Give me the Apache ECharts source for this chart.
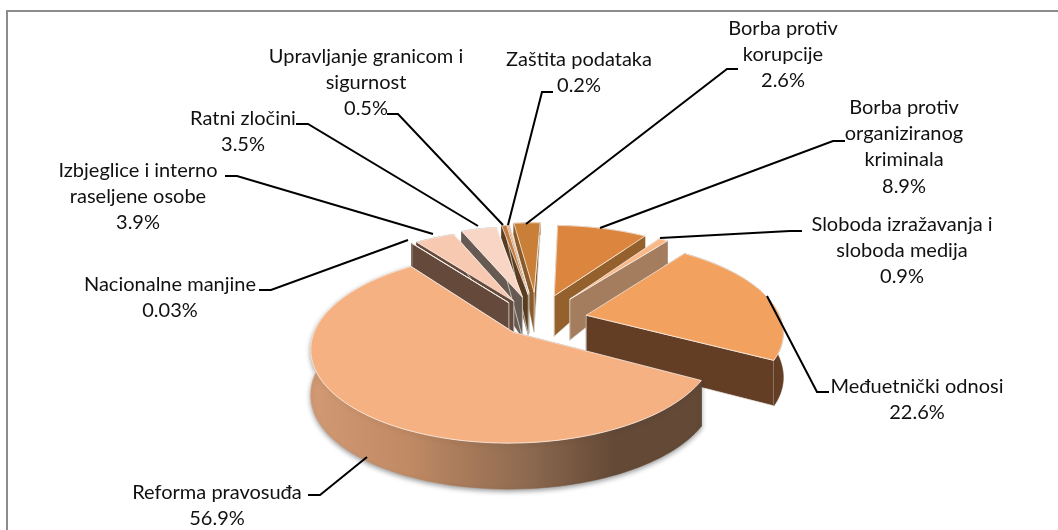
<!DOCTYPE html>
<html lang="hr">
<head>
    <meta charset="utf-8" />
    <title>Pie</title>
    <script src="https://cdn.jsdelivr.net/npm/echarts@6/dist/echarts.min.js"></script>
    <style>
        html, body { margin: 0; padding: 0; background: #fff; }
        #chartmain { width: 1058px; height: 530px; }
    </style>
</head>
<body>
    <div id="chartmain"></div>
    <script>
        // data, clockwise from the top of the pie
        var sliceNames = [
            'Borba protiv\norganiziranog\nkriminala',
            'Sloboda izražavanja i\nsloboda medija',
            'Međuetnički odnosi',
            'Reforma pravosuđa',
            'Nacionalne manjine',
            'Izbjeglice i interno\nraseljene osobe',
            'Ratni zločini',
            'Upravljanje granicom i\nsigurnost',
            'Zaštita podataka',
            'Borba protiv\nkorupcije'
        ];
        var sliceValues = [8.9, 0.9, 22.6, 56.9, 0.03, 3.9, 3.5, 0.5, 0.2, 2.6];

        // look of each slice, same order
        var topColors = ['#DC853F', '#F8B888', '#F2A15F', '#F6B183', '#F3BFA0', '#F7C9B0', '#F9D5C5', '#C77A3C', '#F0B080', '#C97F37'];
        var wallColors = ['#94602C', '#A37D5E', '#633D24', '#634936', '#654A3C', '#654A3C', '#675A52', '#5A3C1E', '#5A3C1E', '#8A5A28'];
        var explode = [0.3, 0.3, 0.26, 0.18, 0.25, 0.25, 0.28, 0.3, 0.32, 0.33];
        var paintOrder = [9, 8, 7, 0, 1, 6, 5, 4, 2, 3];

        // label layout: text centre x, first line y, then the leader line
        var labelX = [904, 902, 917, 217, 170, 138, 243, 366, 579, 783];
        var labelY = [107, 224, 386, 492, 284, 170, 118, 56, 59, 28];
        var leaders = [
            [[845, 141], [833, 141], [600, 228]],
            [[802, 231], [790, 231], [660, 238]],
            [[829, 392], [817, 392], [767, 296]],
            [[308, 495], [320, 495], [367, 457]],
            [[259, 290], [271, 290], [408, 240]],
            [[225, 176], [237, 176], [433, 234]],
            [[296, 124], [308, 124], [478, 226]],
            [[387, 114], [398, 114], [503, 225]],
            [[553, 92], [542, 92], [508, 225]],
            [[738, 69], [727, 69], [526, 224]]
        ];

        // pie projection
        var CX = 537, CY = 320, RX = 195, RY = 88.7, PERSP = 0.16, START = 2;

        function project(x, y) {
            var w = 1 + PERSP * y;
            return [CX + RX * x / w, CY - RY * y / w];
        }
        // excel walls get much shorter toward the back
        function wallHeight(y) {
            var t = Math.max(0, Math.min(1, (y + 1.1) / 2.4));
            return 46 - 34 * Math.pow(t, 3.3);
        }
        function pt(off, r, deg) {
            var a = deg * Math.PI / 180;
            return [off[0] + r * Math.sin(a), off[1] + r * Math.cos(a)];
        }
        function top3(p) { return project(p[0], p[1]); }
        function bottom3(p) {
            var s = project(p[0], p[1]);
            return [s[0], s[1] + wallHeight(p[1])];
        }

        var total = sliceValues.reduce(function (a, b) { return a + b; }, 0);
        var sliceAngles = [];
        var cursor = START;
        sliceValues.forEach(function (v) {
            var span = v / total * 360;
            sliceAngles.push([cursor, cursor + span]);
            cursor += span;
        });

        function poly(points, fill, stroke) {
            return {
                type: 'polygon',
                shape: { points: points },
                style: { fill: fill, stroke: stroke || fill, lineWidth: stroke ? 1 : 0.5 }
            };
        }

        function renderSlice(params, api) {
            var i = api.value(0);
            var a0 = sliceAngles[i][0], a1 = sliceAngles[i][1];
            var mid = (a0 + a1) / 2 * Math.PI / 180;
            var off = [explode[i] * Math.sin(mid), explode[i] * Math.cos(mid)];
            var steps = Math.max(2, Math.ceil((a1 - a0) / 2));
            var arc = [];
            for (var s = 0; s <= steps; s++) arc.push(pt(off, 1, a0 + (a1 - a0) * s / steps));

            var arcTop = arc.map(top3);
            var arcBottom = arc.map(bottom3);
            var apexTop = top3(off), apexBottom = bottom3(off);
            var children = [];

            // radial walls
            var edge = 'rgba(225,225,220,0.75)';
            children.push(poly([apexTop, arcTop[0], arcBottom[0], apexBottom], wallColors[i]));
            children.push(poly([apexTop, arcTop[steps], arcBottom[steps], apexBottom], wallColors[i], edge));

            // outer wall, only the long slice has the gradient
            var arcFill = wallColors[i];
            if (i === 3) {
                arcFill = new echarts.graphic.LinearGradient(0, 0, 1, 0, [
                    { offset: 0, color: '#D29A74' },
                    { offset: 0.25, color: '#C08A64' },
                    { offset: 0.55, color: '#8E6A50' },
                    { offset: 0.78, color: '#634936' },
                    { offset: 1, color: '#634936' }
                ]);
            }
            var wall = poly(arcTop.concat(arcBottom.slice().reverse()), arcFill);
            if (i === 3) {
                wall.style.shadowBlur = 5;
                wall.style.shadowColor = 'rgba(0,0,0,0.4)';
                wall.style.shadowOffsetY = 2;
            }
            children.push(wall);

            // top face
            children.push(poly([apexTop].concat(arcTop), topColors[i], 'rgba(255,250,245,0.7)'));
            return { type: 'group', children: children };
        }

        function renderLabel(params, api) {
            var i = api.value(0);
            var text = sliceNames[i] + '\n' + sliceValues[i] + '%';
            return {
                type: 'group',
                children: [{
                    type: 'polyline',
                    shape: { points: leaders[i] },
                    style: { fill: null, stroke: '#000', lineWidth: 2 }
                }, {
                    type: 'text',
                    x: labelX[i],
                    y: labelY[i] - 13,
                    style: {
                        text: text,
                        align: 'center',
                        verticalAlign: 'top',
                        fill: '#111',
                        font: '20px Lato',
                        lineHeight: 26.3
                    }
                }]
            };
        }

        var chart = echarts.init(document.getElementById('chartmain'), null, { renderer: 'canvas' });
        chart.setOption({
            animation: false,
            backgroundColor: '#fff',
            graphic: [{
                type: 'rect',
                shape: { x: 7, y: 11, width: 1200, height: 600 },
                style: { fill: null, stroke: '#8C8C8C', lineWidth: 2 },
                silent: true,
                z: 0
            }],
            series: [{
                type: 'custom',
                coordinateSystem: 'none',
                silent: true,
                renderItem: renderSlice,
                data: paintOrder.map(function (i) { return [i]; }),
                z: 2
            }, {
                type: 'custom',
                coordinateSystem: 'none',
                silent: true,
                renderItem: renderLabel,
                data: sliceValues.map(function (v, i) { return [i]; }),
                z: 3
            }]
        });
    </script>
</body>
</html>
